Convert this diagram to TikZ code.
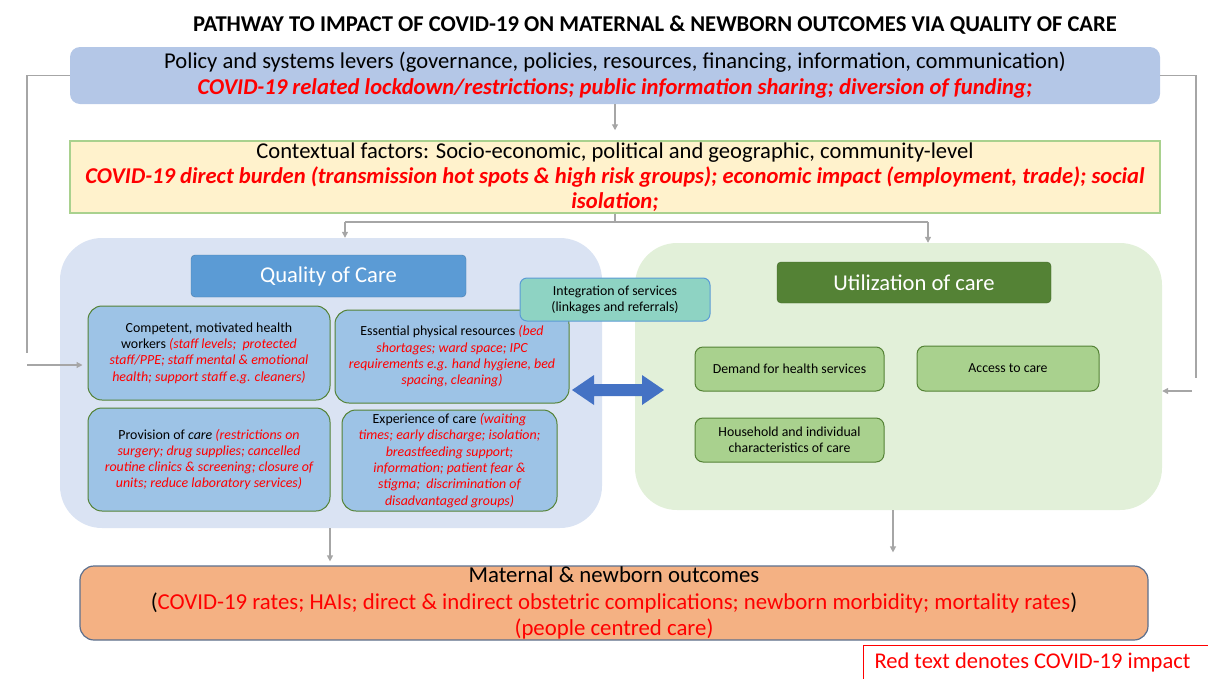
\documentclass[tikz,border=0pt]{standalone}
\usepackage{fontspec}
\setmainfont{Carlito}
\usepackage{tikz}
\usetikzlibrary{arrows.meta}

\definecolor{covidred}{HTML}{FF0000}
\definecolor{policyfill}{HTML}{B4C7E7}
\definecolor{ctxfill}{HTML}{FFF2CC}
\definecolor{ctxdraw}{HTML}{A9D18E}
\definecolor{qocback}{HTML}{DAE3F3}
\definecolor{qochead}{HTML}{5B9BD5}
\definecolor{qocsub}{HTML}{9DC3E6}
\definecolor{subdraw}{HTML}{548235}
\definecolor{integfill}{HTML}{8ED3C3}
\definecolor{utilback}{HTML}{E2F0D9}
\definecolor{utilhead}{HTML}{548235}
\definecolor{utilsub}{HTML}{A9D18E}
\definecolor{linkblue}{HTML}{4472C4}
\definecolor{outfill}{HTML}{F4B183}
\definecolor{outdraw}{HTML}{5B6F8E}
\definecolor{connline}{HTML}{A6A6A6}

\newcommand{\rt}[1]{{\color{covidred}\itshape #1}}
\newcommand{\rb}[1]{{\color{covidred}\bfseries\itshape #1}}

\tikzset{
    bigbox/.style={minimum width=1090, align=center, inner sep=0},
    backbox/.style={rounded corners=42, inner sep=0},
    headbox/.style={rounded corners=4, text=white, font=\fontsize{22.6}{26}\selectfont},
    qocbox/.style={draw=subdraw, line width=1, fill=qocsub, rounded corners=14, align=center,
        font=\fontsize{13.9}{16.3}\selectfont, inner sep=0},
    utilbox/.style={draw=subdraw, line width=1, fill=utilsub, rounded corners=8, align=center,
        font=\fontsize{13.8}{16}\selectfont, inner sep=0},
    line/.style={draw=connline, line width=1.2},
    conn/.style={line, -{Triangle[length=6,width=6]}}
}

\begin{document}
\begin{tikzpicture}[x=1pt, y=-1pt]
    \useasboundingbox (0,0) rectangle (1208,678);
    \node[font=\fontsize{22.6}{26}\selectfont\bfseries] (title) at (655,25)
        {PATHWAY TO IMPACT OF COVID-19 ON MATERNAL \& NEWBORN OUTCOMES VIA QUALITY OF CARE};

    \node[bigbox, fill=policyfill, rounded corners=10, minimum height=57,
        font=\fontsize{22.6}{26}\selectfont] (policy) at (615,75.5)
        {Policy and systems levers (governance, policies, resources, financing, information, communication)\\
        \rb{COVID-19 related lockdown/restrictions; public information sharing; diversion of funding;}};

    \node[bigbox, fill=ctxfill, draw=ctxdraw, line width=1.5, minimum height=72,
        font=\fontsize{22.6}{25}\selectfont] (context) at (615,177)
        {Contextual factors: Socio-economic, political and geographic, community-level\\
        \rb{COVID-19 direct burden (transmission hot spots \& high risk groups); economic impact (employment, trade); social}\\
        \rb{isolation;}};

    \node[backbox, fill=qocback, minimum width=542, minimum height=290] (qocbg) at (331,383) {};
    \node[backbox, fill=utilback, minimum width=527, minimum height=267] (utilbg) at (898.5,376.5) {};

    \node[headbox, fill=qochead, draw=qochead!80!black, minimum width=275, minimum height=42] (qoc) at (328.5,276)
        {Quality of Care};
    \node[headbox, fill=utilhead, draw=utilhead!80!black, minimum width=274, minimum height=41] (util) at (914,282.5)
        {Utilization of care};

    \node[qocbox, minimum width=242, minimum height=94] (workers) at (209,353)
        {Competent, motivated health\\
        workers \rt{(staff levels;~ protected}\\
        \rt{staff/PPE; staff mental \& emotional}\\
        \rt{health; support staff e.g. cleaners)}};
    \node[qocbox, minimum width=234, minimum height=93] (resources) at (452,356.5)
        {Essential physical resources \rt{(bed}\\
        \rt{shortages; ward space; IPC}\\
        \rt{requirements e.g. hand hygiene, bed}\\
        \rt{spacing, cleaning)}};
    \node[qocbox, minimum width=242, minimum height=103] (provision) at (209,459.5)
        {Provision of \textit{care} \rt{(restrictions on}\\
        \rt{surgery; drug supplies; cancelled}\\
        \rt{routine clinics \& screening; closure of}\\
        \rt{units; reduce laboratory services)}};
    \node[qocbox, minimum width=215, minimum height=101] (experience) at (449.5,460.5)
        {Experience of care \rt{(waiting}\\
        \rt{times; early discharge; isolation;}\\
        \rt{breastfeeding support;}\\
        \rt{information; patient fear \&}\\
        \rt{stigma;~ discrimination of}\\
        \rt{disadvantaged groups)}};

    \node[draw=qochead, line width=1, fill=integfill, rounded corners=7, align=center,
        font=\fontsize{13.8}{16}\selectfont, minimum width=190, minimum height=43, inner sep=0] (integ) at (615,299.5)
        {Integration of services\\ (linkages and referrals)};

    \node[utilbox, minimum width=189, minimum height=44] (demand) at (789.5,369) {Demand for health services};
    \node[utilbox, minimum width=182, minimum height=45] (access) at (1008,368.5) {Access to care};
    \node[utilbox, minimum width=189, minimum height=44] (household) at (789.5,440)
        {Household and individual\\ characteristics of care};

    \fill[linkblue] (572,390) -- (594,375) -- (594,384) -- (642,384) -- (642,375) -- (664,390)
        -- (642,405) -- (642,396) -- (594,396) -- (594,405) -- cycle;

    \node[fill=outfill, draw=outdraw, line width=1.2, rounded corners=14, minimum width=1068, minimum height=74,
        align=center, inner sep=0, font=\fontsize{22.8}{26.5}\selectfont] (outcomes) at (614,603)
        {Maternal \& newborn outcomes\\
        ({\color{covidred}COVID-19 rates; HAIs; direct \& indirect obstetric complications; newborn morbidity; mortality rates})\\
        {\color{covidred}(people centred care)}};

    \draw[covidred, line width=1] (1215,645) -| (863,690);
    \node[text=covidred, font=\fontsize{22.5}{26}\selectfont, anchor=west] (legend) at (871,662)
        {Red text denotes COVID-19 impact};

    \draw[conn, shorten >=10] (policy) -- (context);
    \coordinate (split) at (615,222);
    \draw[line] (context.south) -- (split);
    \draw[line] (split -| 345,0) -- (split -| 928,0);
    \draw[conn] (split -| 345,0) -- (qocbg.north -| 345,0);
    \draw[conn] (split -| 928,0) -- (utilbg.north -| 928,0);
    \draw[conn, shorten >=4] (qocbg.south -| 330,0) -- (outcomes.north -| 330,0);
    \draw[conn, shorten >=13] (utilbg.south -| 893,0) -- (outcomes.north -| 893,0);

    \coordinate (backleft) at (27,353);
    \coordinate (inleft) at (27,365);
    \draw[line] (policy.west) -| (backleft);
    \draw[conn, shorten >=5] (inleft) -- (inleft -| workers.west);
    \coordinate (backright) at (1196,378);
    \coordinate (inright) at (1192,391);
    \draw[line] (policy.east) -| (backright);
    \draw[conn] (inright) -- (inright -| utilbg.east);
\end{tikzpicture}
\end{document}
